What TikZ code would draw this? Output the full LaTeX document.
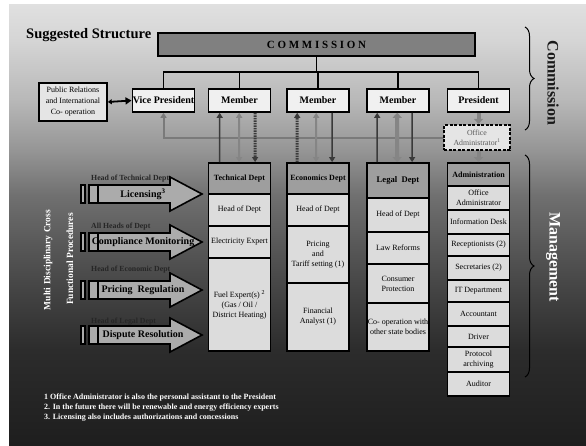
\documentclass[tikz,border=0pt]{standalone}
\usepackage{fontspec}
\setmainfont{Liberation Serif}
\usetikzlibrary{arrows.meta,decorations.pathreplacing}
\definecolor{bgtop}{HTML}{E0E0E0}
\definecolor{bgA}{HTML}{D5D5D5}
\definecolor{bgB}{HTML}{B8B8B8}
\definecolor{bgC}{HTML}{959595}
\definecolor{bgD}{HTML}{707070}
\definecolor{bgE}{HTML}{5A5A5A}
\definecolor{bgF}{HTML}{444444}
\definecolor{bgG}{HTML}{2C2C2C}
\definecolor{bgbot}{HTML}{1E1E1E}
\definecolor{boxlight}{HTML}{F0F0F0}
\definecolor{cellfill}{HTML}{DCDCDC}
\definecolor{headfill}{HTML}{9E9E9E}
\definecolor{commfill}{HTML}{808080}
\definecolor{lndark}{HTML}{3A3A3A}
\definecolor{lngray}{HTML}{858585}
\definecolor{procfill}{HTML}{ABABAB}
\pgfdeclareverticalshading{bgshade}{100bp}{color(0bp)=(bgbot); color(25bp)=(bgbot);
  color(35.8bp)=(bgG); color(42.6bp)=(bgF); color(48.2bp)=(bgE); color(53.3bp)=(bgD);
  color(58.4bp)=(bgC); color(64.1bp)=(bgB); color(70.9bp)=(bgA); color(75bp)=(bgtop); color(100bp)=(bgtop)}
\tikzset{
  stip/.tip={Triangle[width=6pt,length=5pt]},
  btip/.tip={Triangle[width=9pt,length=5pt]},
  mbox/.style={draw,line width=1.6pt,fill=boxlight,minimum width=62pt,minimum height=23pt,
    inner sep=0.5pt,font=\fontsize{10}{12}\selectfont\bfseries},
  cell/.style={draw,line width=1.8pt,fill=cellfill,minimum width=62pt,inner sep=0.5pt,
    align=center,font=\fontsize{8}{10}\selectfont},
  headcell/.style={cell,fill=headfill,font=\fontsize{8}{10}\selectfont\bfseries},
  darkln/.style={draw=lndark,line width=1.5pt},
  grayln/.style={draw=lngray,line width=2pt},
  thickln/.style={draw=lngray,line width=4pt},
  dotln/.style={draw=lndark,line width=3pt,dash pattern=on 1.5pt off 1pt},
  procshape/.style={draw,line width=1.6pt,fill=procfill},
  proctext/.style={font=\fontsize{10}{12}\selectfont\bfseries,text=black,inner sep=0pt},
  proclabel/.style={font=\fontsize{7.8}{9}\selectfont\bfseries,text=black!85,inner sep=0pt,anchor=west},
  sidetext/.style={font=\fontsize{9.5}{11}\selectfont\bfseries,text=white,rotate=90,inner sep=0pt},
  bracetext/.style={font=\fontsize{16}{18}\selectfont\bfseries,rotate=-90,inner sep=0pt},
  mybrace/.style={decorate,decoration={brace,amplitude=9pt},line width=1pt},
}
\begin{document}
\begin{tikzpicture}[x=1pt,y=-1pt]
\fill[white] (0,0) rectangle (586,445);
\useasboundingbox (0,0) rectangle (586,445);
\shade[shading=bgshade] (9,4) rectangle (586,445);

% top of the chart
\node[anchor=west,inner sep=0pt,font=\fontsize{14.5}{16}\selectfont\bfseries] (title) at (26,35) {Suggested Structure};
\node[draw,line width=1.6pt,fill=commfill,minimum width=317pt,minimum height=23pt,inner sep=0pt,
  font=\fontsize{11}{12}\selectfont\bfseries] (comm) at (316.5,44.5) {C O M M I S S I O N};
\foreach \nm/\xc/\txt in {vp/163.5/Vice President, m1/239.5/Member, m2/318/Member, m3/398/Member, pres/478.5/President}
  \node[mbox] (\nm) at (\xc,100.5) {\txt};
\node[draw,line width=1.6pt,fill=black!10,minimum width=68pt,minimum height=38pt,inner sep=0pt,align=center,
  font=\fontsize{8}{11}\selectfont] (pr) at (73,102) {Public Relations\\and International\\Co- operation};
\node[draw,line width=2.2pt,dash pattern=on 3pt off 1.5pt,fill=black!10,minimum width=66pt,minimum height=25pt,
  inner sep=0pt,align=center,text=black!65,font=\fontsize{7.8}{10}\selectfont] (oa) at (477,137.5) {Office\\Administrator\textsuperscript{1}};

% departments
\foreach \nm/\xc/\yt/\yb/\txt in {tech/239.5/163/194/{Technical Dept}, econ/318/163/194/{Economics Dept},
  legal/398/163/198/{\fontsize{8.6}{10}\selectfont Legal\ \ Dept}, admin/478.5/163/186/{Administration}}
  \node[headcell,minimum height={(\yb-\yt)*1pt}] (\nm) at (\xc,{(\yt+\yb)/2}) {\txt};
\foreach \nm/\xc/\yt/\yb/\txt in {
  tech1/239.5/194/226/{Head of Dept}, tech2/239.5/226/258/{Electricity Expert},
  tech3/239.5/258/351/{Fuel Expert(s) \textsuperscript{2}\\(Gas / Oil /\\District\ Heating)},
  econ1/318/194/226/{Head of Dept}, econ2/318/226/283/{Pricing\\and\\Tariff setting (1)},
  econ3/318/283/351/{Financial\\Analyst (1)},
  legal1/398/198/232/{Head of Dept}, legal2/398/232/264/{Law Reforms},
  legal3/398/264/303/{Consumer\\Protection}, legal4/398/303/351/{Co- operation with\\other state bodies},
  admin1/478.5/186/210/{Office\\Administrator}, admin2/478.5/210/234/{Information Desk},
  admin3/478.5/234/256/{Receptionists (2)}, admin4/478.5/256/280/{Secretaries (2)},
  admin5/478.5/280/302/{IT Department}, admin6/478.5/302/326/{Accountant},
  admin7/478.5/326/347/{Driver}, admin8/478.5/347/372/{Protocol\\archiving},
  admin9/478.5/372/396/{Auditor}}
  \node[cell,minimum height={(\yb-\yt)*1pt}] (\nm) at (\xc,{(\yt+\yb)/2}) {\txt};

% tree under the commission
\coordinate (tree) at (0,72);
\draw[line width=1.5pt] (comm.south) -- (comm.south |- tree);
\draw[line width=1.5pt] (vp.north) |- (tree -| pres.north) -- (pres.north);
\foreach \nm in {m1,m2,m3}
  \draw[line width=1.5pt] (\nm.north) -- (\nm.north |- tree);
\draw[line width=1.8pt,{Triangle[width=5pt,length=4pt]}-{Triangle[width=7pt,length=6pt]}] (pr.east) -- (vp.west);

% links to the departments
\draw[draw=black!52,line width=2pt,-stip] (oa.west) -| (vp.south);
\draw[thickln,-btip] (pres.south) -- (pres.south |- oa.north);
\draw[thickln,-btip] (pres.south |- oa.south) -- (admin.north);
\draw[darkln,-stip] ([xshift=12pt]tech.north west) -- ([xshift=12pt]m1.south west);
\draw[grayln,stip-stip] ([xshift=31.5pt]tech.north west) -- ([xshift=31.5pt]m1.south west);
\draw[dotln,-stip] ([xshift=47.5pt]m1.south west) -- ([xshift=47.5pt]tech.north west);
\draw[dotln,-stip] ([xshift=11pt]econ.north west) -- ([xshift=11pt]m2.south west);
\draw[grayln,stip-stip] ([xshift=30pt]econ.north west) -- ([xshift=30pt]m2.south west);
\draw[darkln,-stip] ([xshift=46pt]m2.south west) -- ([xshift=46pt]econ.north west);
\draw[darkln,-stip] ([xshift=11pt]legal.north west) -- ([xshift=11pt]m3.south west);
\draw[thickln,btip-btip] ([xshift=31pt]legal.north west) -- ([xshift=31pt]m3.south west);
\draw[darkln,-stip] ([xshift=46pt]m3.south west) -- ([xshift=46pt]legal.north west);

% procedures on the left
\foreach \nm/\c/\hy/\hd/\txt in {lic/194/179/{Head of Technical Dept}/{Licensing\textsuperscript{3}},
  cmp/242/227/{All Heads of Dept}/{Compliance Monitoring}, prc/290/270/{Head of Economic Dept}/{Pricing\ \ Regulation},
  dsp/335/322/{Head of Legal Dept}/{Dispute Resolution}} {
  \draw[procshape] (98,\c-9) -- (170,\c-9) -- (170,\c-17) -- (202,\c) -- (170,\c+17) -- (170,\c+9) -- (98,\c+9) -- cycle;
  \draw[procshape] (81,\c-9) rectangle (85,\c+9);
  \draw[procshape] (89,\c-9) rectangle (98,\c+9);
  \node[proctext] (\nm) at (143,\c) {\txt};
  \node[proclabel] (\nm-head) at (91,\hy) {\hd};
}
\node[sidetext] (multi) at (48,260) {Multi Disciplinary Cross};
\node[sidetext] (func) at (70,259) {Functional Procedures};

% braces
\coordinate (cb1) at (525,27);
\coordinate (cb2) at (525,130);
\coordinate (mb1) at (525,155);
\coordinate (mb2) at (525,377);
\draw[mybrace] (cb1) -- (cb2);
\draw[mybrace] (mb1) -- (mb2);
\node[bracetext,text=black!90] (commlbl) at (553,83) {Commission};
\node[bracetext,text=white] (mgmtlbl) at (553,257) {Management};

% notes
\node[anchor=north west,inner sep=0pt,align=left,text=white,font=\fontsize{8}{10}\selectfont\bfseries] (notes) at (44,394)
  {1 Office Administrator is also the personal assistant to the President\\
   2. In the future there will be renewable and energy efficiency experts\\
   3. Licensing also includes authorizations and concessions};
\end{tikzpicture}
\end{document}
